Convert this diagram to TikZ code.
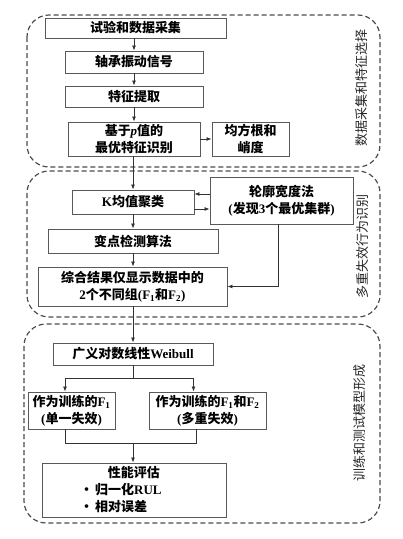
\documentclass[tikz,border=0pt]{standalone}
\usepackage{fontspec}
\setmainfont{Noto Sans CJK SC}
\newfontfamily\latf{Liberation Serif}
\usetikzlibrary{arrows.meta,calc}
\newcommand\La[1]{{\latf #1}}
\begin{document}
\begin{tikzpicture}[x=1pt,y=-1pt,
 box/.style={draw=black!65,line width=0.9pt,fill=white,align=center,inner sep=0pt,font=\fontsize{13}{17}\selectfont\bfseries},
 grp/.style={draw=black!70,line width=1.2pt,dash pattern=on 5pt off 3pt,rounded corners=22pt},
 lab/.style={rotate=90,font=\fontsize{13}{16}\selectfont,text=black!85},
 arr/.style={draw=black!80,line width=0.8pt,-{Latex[length=5pt,width=4pt]}},
 ln/.style={draw=black!80,line width=0.8pt}]
\useasboundingbox (0,0) rectangle (403,539);
% groups
\draw[grp] (27,15) rectangle (380,167);
\draw[grp] (27,171) rectangle (380,317);
\draw[grp] (24,324) rectangle (380,523);
\node[lab] (s1) at (362,87.5) {数据采集和特征选择};
\node[lab] (s2) at (363,246.5) {多重失效行为识别};
\node[lab] (s3) at (360,422.5) {训练和测试模型形成};
% nodes
\node[box,minimum width=181pt,minimum height=20pt] (n1) at (135.5,28) {试验和数据采集};
\node[box,minimum width=138pt,minimum height=22pt] (n2) at (134,62) {轴承振动信号};
\node[box,minimum width=138pt,minimum height=21pt] (n3) at (134,96.5) {特征提取};
\node[box,minimum width=132pt,minimum height=34pt] (n4) at (134,139) {基于\La{\itshape p}值的\\最优特征识别};
\node[box,minimum width=77pt,minimum height=34pt] (n5) at (250.5,139) {均方根和\\峭度};
\node[box,minimum width=122pt,minimum height=24pt] (n6) at (133,202) {\La{K}均值聚类};
\node[box,minimum width=143pt,minimum height=47pt] (n7) at (281.5,200.5) {轮廓宽度法\\\La{(}发现\La{3}个最优集群\La{)}};
\node[box,minimum width=170pt,minimum height=24pt] (n8) at (133,241) {变点检测算法};
\node[box,minimum width=189pt,minimum height=39pt] (n9) at (132.5,286.5) {综合结果仅显示数据中的\\\La{2}个不同组\La{(F\textsubscript{1}}和\La{F\textsubscript{2})}};
\node[box,minimum width=160pt,minimum height=22pt] (n10) at (133,354) {广义对数线性\La{Weibull}};
\node[box,minimum width=87pt,minimum height=37pt] (n11) at (71.5,410.5) {作为训练的\La{F\textsubscript{1}}\\\La{(}单一失效\La{)}};
\node[box,minimum width=117pt,minimum height=37pt] (n12) at (207.5,410.5) {作为训练的\La{F\textsubscript{1}}和\La{F\textsubscript{2}}\\\La{(}多重失效\La{)}};
\node[box,minimum width=184pt,minimum height=54pt,align=left,text width=184pt] (n13) at (134,490) {\makebox[184pt]{性能评估}\\\hspace*{38pt}·\,归一化\La{RUL}\\\hspace*{38pt}·\,相对误差};
% connectors
\draw[arr] (n2.north |- n1.south) -- (n2.north);
\draw[arr] (n3.north |- n2.south) -- (n3.north);
\draw[arr] (n4.north |- n3.south) -- (n4.north);
\draw[arr] (n4) -- (n5);
\draw[arr] (n6.north |- n4.south) -- (n6.north);
\coordinate (a1) at ([yshift=8pt]n6.east);
\coordinate (a2) at ([yshift=-7pt]n6.east);
\draw[arr] (a1 -| n7.west) -- (a1);
\draw[arr] (a2) -- (a2 -| n7.west);
\draw[arr] (n8.north |- n6.south) -- (n8.north);
\draw[arr] (n8.south) -- (n8.south |- n9.north);
\draw[arr] ([xshift=-3.5pt]n7.south) |- (n9.east);
\draw[arr] (n10.north |- n9.south) -- (n10.north);
\coordinate (split) at (133,378);
\draw[ln] (n10.south) -- (split);
\draw[arr] (split) -| ([xshift=-6.5pt]n11.north);
\draw[arr] (split) -| ([xshift=-14pt]n12.north);
\coordinate (merge) at (133,443);
\draw[ln] ([xshift=-6pt]n11.south) |- (merge);
\draw[ln] ([xshift=-11pt]n12.south) |- (merge);
\draw[arr] (merge) -- (merge |- n13.north);
\end{tikzpicture}
\end{document}
